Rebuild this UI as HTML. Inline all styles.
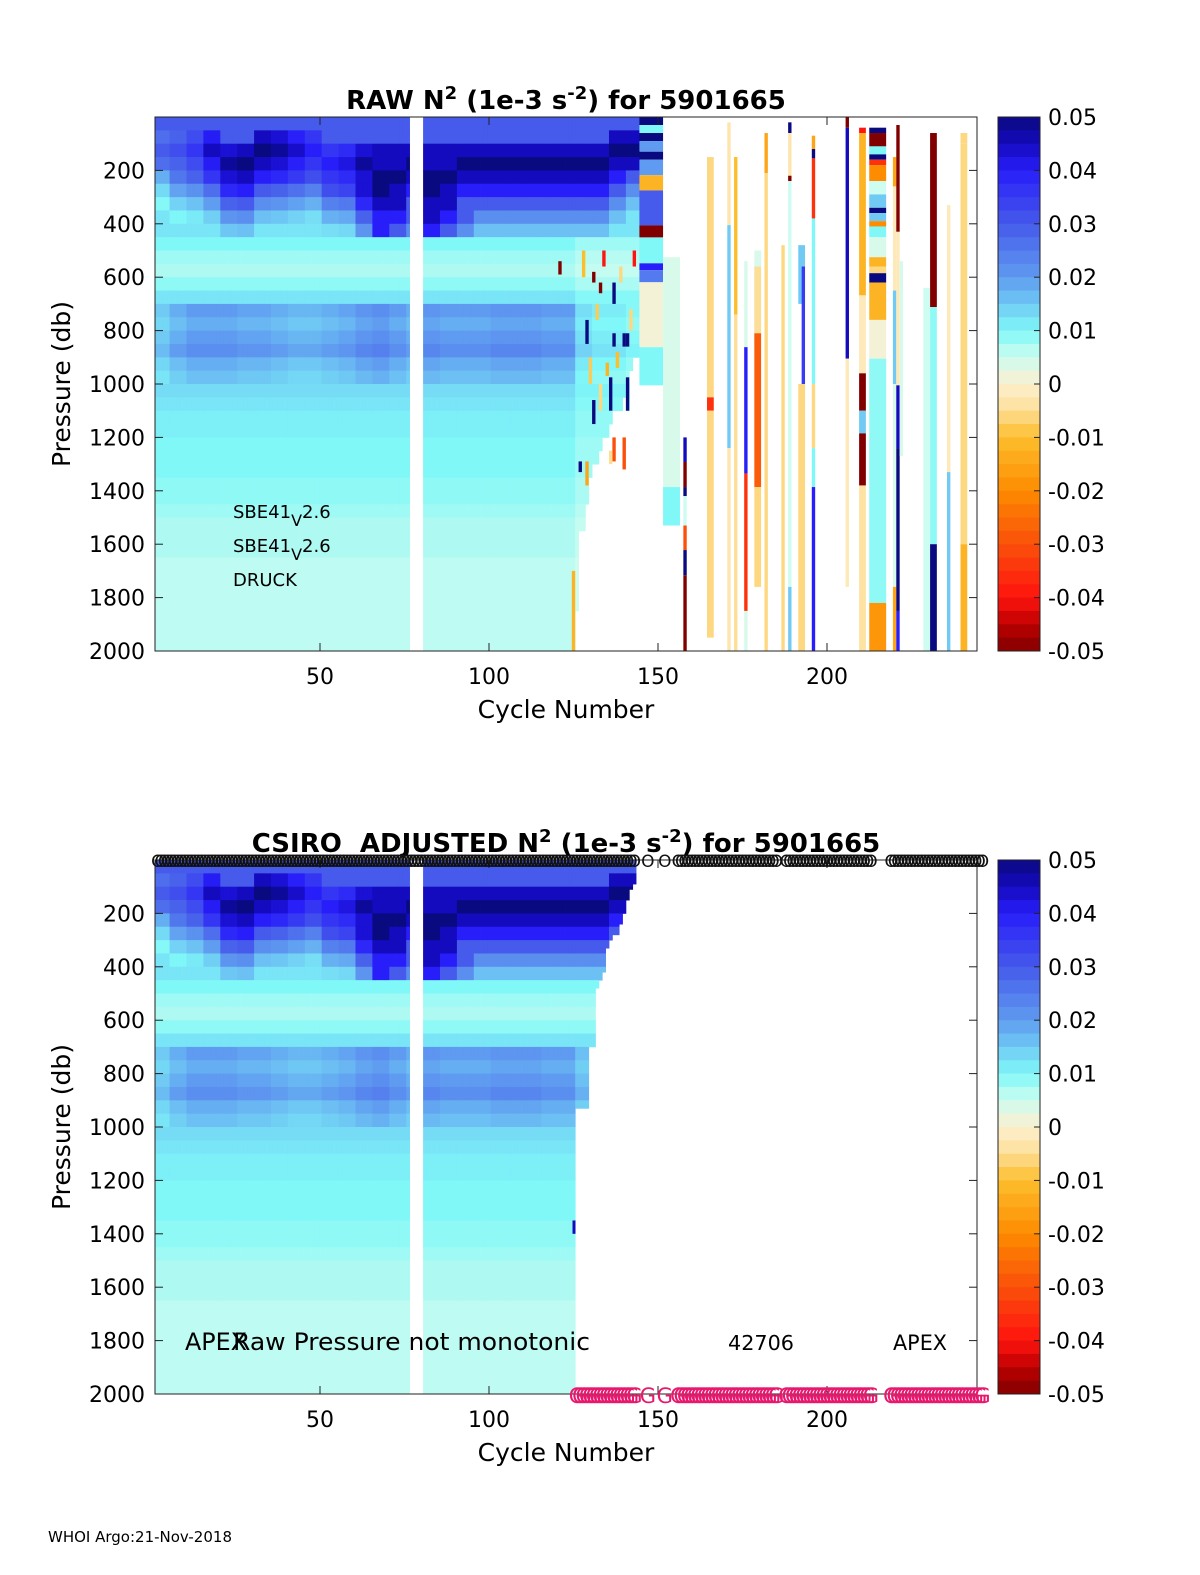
<!DOCTYPE html>
<html><head><meta charset="utf-8"><style>
html,body{margin:0;padding:0;background:#fff;}
svg{display:block;font-family:"DejaVu Sans","Liberation Sans",sans-serif;}
</style></head><body>
<svg id="fig" width="1200" height="1575" viewBox="0 0 1200 1575" xmlns="http://www.w3.org/2000/svg">
<g id="p1"></g>
<g id="p2"></g>
<text x="48" y="1542" font-size="15">WHOI Argo:21-Nov-2018</text>
</svg>
<script>
// ---- data ----
const xTicks = [50, 100, 150, 200];
const yTicks = [200, 400, 600, 800, 1000, 1200, 1400, 1600, 1800, 2000];
const cbTicks = [0.05, 0.04, 0.03, 0.02, 0.01, 0, -0.01, -0.02, -0.03, -0.04, -0.05];
const cbLabels = ["0.05","0.04","0.03","0.02","0.01","0","-0.01","-0.02","-0.03","-0.04","-0.05"];
// mean N2 profile in 50 db bins (0..2000)
const profile = [0.03,0.045,0.05,0.045,0.04,0.03,0.022,0.016,
  0.012,0.01,0.008,0.007,0.009,0.012,0.02,0.018,
  0.02,0.022,0.018,0.016,0.013,0.012,0.011,0.011,
  0.01,0.01,0.01,0.009,0.009,0.008,
  0.007,0.007,0.007,0.006,0.006,0.006,
  0.006,0.006,0.006,0.006];
// depth of strong upper stratification per 5-cycle group (cycles 1-145)
const shallowDepth = [200,220,230,250,260,260,250,240,230,240,260,280,330,420,380,300,480,380,300,280,280,270,270,270,280,280,260,250,200];
// peak strength of upper stratification per 5-cycle group
const shallowStrength = [0.03,0.032,0.036,0.045,0.048,0.05,0.05,0.048,0.044,0.04,0.04,0.042,0.048,0.05,0.05,0.05,0.05,0.05,0.05,0.05,0.05,0.05,0.05,0.05,0.05,0.05,0.05,0.05,0.05];
// deep (700-1000 db) intensity factor per 5-cycle group
const deepFactor = [0.75,0.9,1.0,1.0,1.0,0.95,0.95,0.9,0.85,0.85,0.9,0.95,1.05,1.1,1.0,0.9,1.05,1.0,1.0,1.0,1.05,1.05,1.05,1.0,1.0,0.8,0.7,0.7,0.6];
const missingCycles = [77,78,79,80];
// raw plot: max depth of dense data for cycles 126..144
const rawMaxDepth = [1850,1550,1550,1450,1350,1300,1300,1250,1200,1200,1150,1100,1100,1100,1050,1100,950,900,900];
// adjusted plot: max depth for cycles 126..143
const adjMaxDepth = [930,930,930,930,700,700,480,450,420,330,300,280,280,240,200,150,110,90];
// isolated anomalies in raw data: [cycle, p0, p1, value]
const rawAnomalies = [[121,540,590,-0.05],[131,580,620,-0.05],[133,620,660,-0.05],[134,500,560,-0.04],[143,500,560,-0.04],
 [137,620,700,0.05],[129,760,850,0.05],[137,810,860,0.05],[140,810,860,0.05],[141,810,860,0.05],[136,975,1100,0.05],
 [131,1060,1150,0.05],[141,975,1100,0.05],[137,1200,1290,-0.03],[140,1200,1320,-0.03],[127,1290,1330,0.05],
 [129,1290,1380,-0.015],[135,920,970,-0.012],[125,1700,2000,-0.012],[132,700,760,-0.008],[138,880,940,-0.01],[142,720,800,-0.006],
 [128,500,600,-0.01],[139,560,620,-0.006],[130,900,1000,-0.008],[133,1000,1100,-0.006],[136,1250,1300,-0.005]];
// sparse raw profiles: [cycle, widthCycles, p0, p1, value]
const rawStripes = [
 [145,7,0,30,0.05],[145,7,30,60,0.01],[145,7,60,90,0.05],[145,7,90,130,0.02],[145,7,130,160,0.05],[145,7,160,218,0.02],[145,7,218,275,-0.012],
 [145,7,275,406,0.03],[145,7,406,451,-0.05],[145,7,451,548,0.01],[145,7,548,574,0.04],[145,7,574,619,0.025],[145,7,619,862,0.001],[145,7,862,1005,0.01],
 [152,5,525,1386,0.004],[152,5,1386,1530,0.01],
 [158,1,1200,1292,0.045],[158,1,1292,1386,-0.05],[158,1,1386,1420,0.05],[158,1,1420,1530,0.005],[158,1,1530,1622,-0.03],[158,1,1622,1716,0.05],[158,1,1716,2000,-0.05],
 [165,2,150,1050,-0.006],[165,2,1050,1100,-0.035],[165,2,1100,1950,-0.006],
 [171,1,20,405,-0.003],[171,1,405,1240,0.015],[171,1,1240,2000,-0.003],
 [173,1,150,740,-0.01],[173,1,740,2000,-0.005],
 [176,1,540,862,0.004],[176,1,862,1335,0.04],[176,1,1335,1850,-0.035],[176,1,1850,2000,0.004],
 [179,2,500,860,0.004],[179,2,560,810,-0.005],[179,2,810,1386,-0.028],[179,2,1386,1760,-0.006],
 [182,1,60,210,-0.015],[182,1,210,2000,-0.006],
 [187,1,480,2000,-0.006],
 [189,1,20,60,0.05],[189,1,60,220,-0.003],[189,1,220,240,-0.05],[189,1,240,1760,0.005],[189,1,1760,2000,0.015],
 [192,2,480,700,0.015],[193,1,560,1000,0.035],[192,2,1000,2000,-0.006],
 [196,1,70,120,-0.015],[196,1,120,155,0.05],[196,1,155,380,-0.035],[196,1,380,1000,0.01],[196,1,1000,1240,-0.006],[196,1,1240,1386,0.01],[196,1,1386,2000,0.04],
 [206,1,0,40,-0.05],[206,1,40,905,0.045],[206,1,905,1760,-0.002],
 [210,2,40,60,-0.04],[210,2,60,668,-0.012],[210,2,668,960,-0.002],[210,2,960,1100,-0.05],[210,2,1100,1185,0.015],[210,2,1185,1380,-0.05],[210,2,1380,2000,-0.004],
 [213,5,40,60,0.05],[213,5,60,110,-0.05],[213,5,110,140,0.01],[213,5,140,160,0.05],[213,5,160,180,-0.035],[213,5,180,240,-0.02],[213,5,240,290,0.005],
 [213,5,290,340,0.015],[213,5,340,360,0.05],[213,5,360,390,0.015],[213,5,390,410,-0.02],[213,5,410,450,0.01],[213,5,450,525,0.004],
 [213,5,525,560,-0.012],[213,5,560,585,-0.006],[213,5,585,620,0.05],[213,5,620,760,-0.012],[213,5,760,905,0.001],[213,5,905,1820,0.009],[213,5,1820,2000,-0.018],
 [220,1,150,260,-0.015],[220,1,260,650,-0.002],[220,1,650,1000,0.015],[220,1,1000,1760,0.004],[220,1,1760,2000,-0.015],
 [221,1,30,430,-0.05],[221,1,430,1005,-0.002],[221,1,1005,1240,0.045],[221,1,1240,1850,0.05],[221,1,1850,2000,0.04],
 [222,1,540,1270,0.004],
 [229,2,640,2000,0.005],
 [231,2,60,712,-0.05],[231,2,712,1600,0.009],[231,2,1600,2000,0.05],
 [236,1,330,1330,-0.002],[236,1,1330,2000,0.015],
 [240,2,60,100,-0.006],[240,2,100,1600,-0.006],[240,2,1600,2000,-0.012]
];
// cycles with no profile marker
const markerGaps = [[144,146],[148,155],[186,187],[214,218]];

// ---- helpers ----
const NS = "http://www.w3.org/2000/svg";
const X0 = 155, X1 = 977;
function xOf(c){ return 151 + 3.38 * c; }
function mk(tag, attrs, parent){ const e = document.createElementNS(NS, tag); for (const k in attrs) e.setAttribute(k, attrs[k]); parent.appendChild(e); return e; }
const cmapV = [0.05,0.045,0.04,0.03,0.02,0.01,0.005,0,-0.005,-0.01,-0.02,-0.03,-0.04,-0.045,-0.05];
const cmapC = [[10,10,128],[20,10,190],[40,30,250],[70,90,235],[95,155,240],[128,248,248],[205,252,240],[253,240,208],[253,222,150],[253,190,45],[253,140,0],[250,80,10],[255,20,15],[190,0,0],[128,0,0]];
function color(v){
  v = Math.max(-0.05, Math.min(0.05, v));
  for (let i = 0; i < cmapV.length - 1; i++) {
    if (v <= cmapV[i] && v >= cmapV[i+1]) {
      const t = (cmapV[i] - v) / (cmapV[i] - cmapV[i+1]);
      const a = cmapC[i], b = cmapC[i+1];
      return "rgb(" + [0,1,2].map(k => Math.round(a[k] + (b[k]-a[k]) * t)).join(",") + ")";
    }
  }
  return "rgb(128,0,0)";
}
function denseValue(c, p){
  const g = Math.min(shallowDepth.length - 1, Math.floor((c - 1) / 5));
  let pe = p;
  if (p < 450) pe = Math.min(449, p * 250 / shallowDepth[g]);
  const b = Math.min(39, Math.floor(pe / 50));
  let v = profile[b];
  if (b >= 1 && b <= 7) v *= shallowStrength[g] / 0.05;
  if (b >= 14 && b <= 19) v *= deepFactor[g];
  return v;
}

function panel(gid, top, title, adjusted){
  const g = document.getElementById(gid);
  const Y0 = top, H = 534;
  const yOf = p => Y0 + p * H / 2000;
  const clipId = gid + "clip";
  const defs = mk("defs", {}, g);
  const cp = mk("clipPath", {id: clipId}, defs);
  mk("rect", {x: X0, y: Y0, width: X1 - X0, height: H}, cp);
  const heat = mk("g", {"clip-path": "url(#" + clipId + ")"}, g);
  
  
  const cw = 3.38;
  const lastDense = adjusted ? 143 : 144;
  for (let c = 1; c <= lastDense; c++) {
    if (missingCycles.includes(c)) continue;
    let maxP = 2000;
    if (c >= 126) maxP = adjusted ? adjMaxDepth[c-126] : rawMaxDepth[c-126];
    for (let b = 0; b < 40; b++) {
      const p0 = b * 50; if (p0 >= maxP) break;
      const p1 = Math.min(maxP, p0 + 50);
      let v = denseValue(c, p0);
      if (c >= 126 && !adjusted && p0 >= 450) v = v * 0.8;
      const r = mk("rect", {x: (xOf(c) - cw/2).toFixed(2), y: yOf(p0).toFixed(2), width: (cw + 0.4).toFixed(2), height: (yOf(p1) - yOf(p0) + 0.4).toFixed(2), fill: color(v)}, heat);
      
      
    }
  }
  if (!adjusted) {
    for (const a of rawAnomalies) {
      const r = mk("rect", {x: (xOf(a[0]) - cw/2).toFixed(2), y: yOf(a[1]).toFixed(2), width: cw.toFixed(2), height: (yOf(a[2]) - yOf(a[1])).toFixed(2), fill: color(a[3])}, heat);
      
      
    }
    for (const s of rawStripes) {
      const r = mk("rect", {x: (xOf(s[0]) - cw/2).toFixed(2), y: yOf(s[2]).toFixed(2), width: (cw * s[1]).toFixed(2), height: (yOf(s[3]) - yOf(s[2])).toFixed(2), fill: color(s[4])}, heat);
      
      
    }
  } else {
    const r = mk("rect", {x: (xOf(125) - 1).toFixed(2), y: yOf(1350).toFixed(2), width: 3, height: (yOf(1400) - yOf(1350)).toFixed(2), fill: color(0.045)}, heat);
    
    
  }
  const fr = mk("rect", {x: X0, y: Y0, width: X1 - X0, height: H, fill: "none", stroke: "#222", "stroke-width": 1}, g);
  
  
  for (const t of yTicks) {
    const y = yOf(t);
    mk("line", {x1: X0, x2: X0 + 8, y1: y, y2: y, stroke: "#222"}, g);
    mk("line", {x1: X1 - 8, x2: X1, y1: y, y2: y, stroke: "#222"}, g);
    const tx = mk("text", {x: 145, y: y + 8, "font-size": 22, "text-anchor": "end"}, g);
    tx.textContent = t;
    
    
  }
  for (const t of xTicks) {
    const x = xOf(t);
    mk("line", {x1: x, x2: x, y1: Y0 + H, y2: Y0 + H - 8, stroke: "#222"}, g);
    mk("line", {x1: x, x2: x, y1: Y0, y2: Y0 + 8, stroke: "#222"}, g);
    const tx = mk("text", {x: x, y: Y0 + H + 33, "font-size": 22, "text-anchor": "middle"}, g);
    tx.textContent = t;
    
    
  }
  const xl = mk("text", {x: 566, y: Y0 + H + 67, "font-size": 25, "text-anchor": "middle"}, g);
  xl.textContent = "Cycle Number";
  
  
  const yl = mk("text", {x: 0, y: 0, "font-size": 25, "text-anchor": "middle", transform: "translate(70," + (Y0 + H/2) + ") rotate(-90)"}, g);
  yl.textContent = "Pressure (db)";
  
  
  const ti = mk("text", {x: 566, y: Y0 - 8, "font-size": 26, "font-weight": "bold", "text-anchor": "middle"}, g);
  ti.innerHTML = title;
  
  
  const cb = mk("g", {}, g);
  
  
  const nb = 40;
  for (let i = 0; i < nb; i++) {
    const v = 0.05 - (i + 0.5) * 0.1 / nb;
    mk("rect", {x: 998, y: (Y0 + i * H / nb).toFixed(2), width: 42, height: (H / nb + 0.5).toFixed(2), fill: color(v)}, cb);
  }
  mk("rect", {x: 998, y: Y0, width: 42, height: H, fill: "none", stroke: "#222"}, cb);
  cbTicks.forEach((t, i) => {
    const y = Y0 + (0.05 - t) / 0.1 * H;
    mk("line", {x1: 1034, x2: 1040, y1: y, y2: y, stroke: "#222"}, cb);
    const tx = mk("text", {x: 1048, y: y + 8, "font-size": 22}, cb);
    tx.textContent = cbLabels[i];
    
    
  });
  return {g, yOf};
}

const P1 = panel("p1", 117, 'RAW N<tspan dy="-10" font-size="18">2</tspan><tspan dy="10"> (1e-3 s</tspan><tspan dy="-10" font-size="18">-2</tspan><tspan dy="10">) for 5901665</tspan>', false);
const P2 = panel("p2", 860, 'CSIRO&#160; ADJUSTED N<tspan dy="-10" font-size="18">2</tspan><tspan dy="10"> (1e-3 s</tspan><tspan dy="-10" font-size="18">-2</tspan><tspan dy="10">) for 5901665</tspan>', true);

const ann1 = [["SBE41", 518, true], ["SBE41", 552, true], ["DRUCK", 586, false]];
for (const a of ann1) {
  const t = mk("text", {x: 233, y: a[1], "font-size": 18}, P1.g);
  t.innerHTML = a[2] ? 'SBE41<tspan dy="8" font-size="16">V</tspan><tspan dy="-8">2.6</tspan>' : a[0];
  
  
}
const ann2 = [["APEX", 185, 24, 62], ["Raw Pressure not monotonic", 233, 24, 357], ["42706", 728, 20, 66], ["APEX", 893, 21, 54]];
for (const a of ann2) {
  const t = mk("text", {x: a[1], y: 1350, "font-size": a[2], textLength: a[3], lengthAdjust: "spacingAndGlyphs"}, P2.g);
  t.textContent = a[0];
  
  
}
function inGap(c){ return markerGaps.some(r => c >= r[0] && c <= r[1]); }
const mo = mk("g", {}, P2.g);


for (let c = 2; c <= 246; c++) {
  if (inGap(c) && c != 152) continue;
  const t = mk("text", {x: xOf(c), y: 867, "font-size": 17, "text-anchor": "middle", fill: "#111"}, mo);
  t.textContent = "O";
}
const mg = mk("g", {}, P2.g);


for (let c = 126; c <= 246; c++) {
  if (inGap(c) && c != 152) continue;
  const t = mk("text", {x: xOf(c), y: 1403, "font-size": 21, "text-anchor": "middle", fill: "#e8186e"}, mg);
  t.textContent = "G";
}
</script>
</body></html>
